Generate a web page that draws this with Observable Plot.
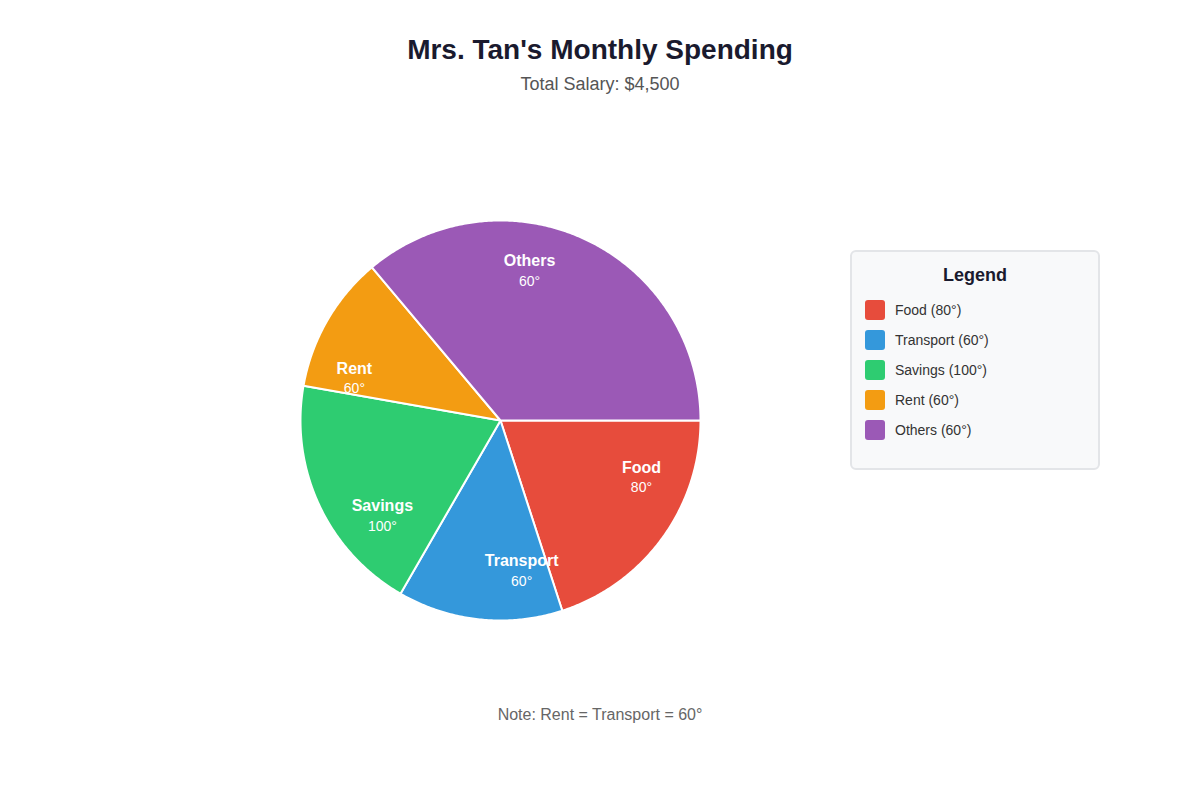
<!DOCTYPE html>
<html>
<head>
<meta charset="utf-8">
<script src="https://cdn.jsdelivr.net/npm/d3@7"></script>
<script src="https://cdn.jsdelivr.net/npm/@observablehq/plot@0.6"></script>
<style>
  html, body { margin: 0; padding: 0; background: #ffffff; }
  body { width: 1200px; height: 800px; position: relative; overflow: hidden;
         font-family: "Liberation Sans", Arial, Helvetica, sans-serif; }
  .title { position: absolute; left: 0; width: 1200px; top: 33px; line-height: 34px;
           text-align: center; font-size: 28px; font-weight: bold; color: #1a1a2e; }
  .subtitle { position: absolute; left: 0; width: 1200px; top: 73px; line-height: 22px;
              text-align: center; font-size: 18px; color: #555; }
  .note { position: absolute; left: 0; width: 1200px; top: 705px; line-height: 20px;
          text-align: center; font-size: 16px; color: #666; }
  #chart { position: absolute; left: 280px; top: 200px; }
  .legend { position: absolute; left: 850px; top: 250px; width: 250px; height: 220px;
            box-sizing: border-box; border: 2px solid #e3e5e8; border-radius: 6px;
            background: #f8f9fa; }
  .legend h3 { position: absolute; left: 0; width: 100%; top: 12px; margin: 0; line-height: 22px;
               text-align: center; font-size: 18px; font-weight: bold; color: #1a1a2e; }
  .legend .item { position: absolute; left: 13px; height: 20px; display: flex; align-items: center; }
  .legend .sw { width: 20px; height: 20px; border-radius: 3px; margin-right: 10px; }
  .legend .lbl { font-size: 14px; color: #333; }
</style>
</head>
<body>
<div class="title">Mrs. Tan's Monthly Spending</div>
<div class="subtitle">Total Salary: $4,500</div>
<div id="chart"></div>
<div class="legend" id="legend"><h3>Legend</h3></div>
<div class="note">Note: Rent = Transport = 60°</div>
<script>
// Data
const categories = ["Food", "Transport", "Savings", "Rent", "Others"];
const sliceSweep = [72, 48, 70, 40, 130];     // slice sizes as drawn in the picture (degrees)
const labelDegrees = [80, 60, 100, 60, 60];   // degrees stated in labels / legend
const colors = ["#e74c3c", "#3498db", "#2ecc71", "#f39c12", "#9b59b6"];

// Build slice polygons (start at 3 o'clock, clockwise on screen)
const rad = d => d * Math.PI / 180;
const points = [];
const labels = [];
let start = 0;
categories.forEach((name, i) => {
  const end = start + sliceSweep[i];
  points.push({name, x: 0, y: 0});
  for (let a = start; a <= end + 1e-9; a += 0.5) {
    points.push({name, x: Math.cos(rad(a)), y: Math.sin(rad(a))});
  }
  const mid = (start + end) / 2 - 14;
  const r = 0.76;
  labels.push({name, deg: labelDegrees[i] + "°", x: r * Math.cos(rad(mid)), y: r * Math.sin(rad(mid))});
  start = end;
});

const chart = Plot.plot({
  width: 440,
  height: 440,
  margin: 20,
  x: {domain: [-1, 1], axis: null},
  y: {domain: [-1, 1], axis: null, reverse: true},
  color: {domain: categories, range: colors},
  style: {fontFamily: "'Liberation Sans', Arial, Helvetica, sans-serif", background: "transparent"},
  marks: [
    Plot.line(points, {x: "x", y: "y", z: "name", fill: "name", stroke: "white", strokeWidth: 2, curve: "linear-closed"}),
    Plot.text(labels, {x: "x", y: "y", text: "name", fill: "white", fontSize: 16, fontWeight: "bold", dy: -10}),
    Plot.text(labels, {x: "x", y: "y", text: "deg", fill: "white", fontSize: 14, dy: 10})
  ]
});
document.getElementById("chart").appendChild(chart);

// Legend
const legend = document.getElementById("legend");
categories.forEach((name, i) => {
  const item = document.createElement("div");
  item.className = "item";
  item.style.top = (48 + i * 30) + "px";
  item.innerHTML = `<div class="sw" style="background:${colors[i]}"></div><span class="lbl">${name} (${labelDegrees[i]}°)</span>`;
  legend.appendChild(item);
});
</script>
</body>
</html>
